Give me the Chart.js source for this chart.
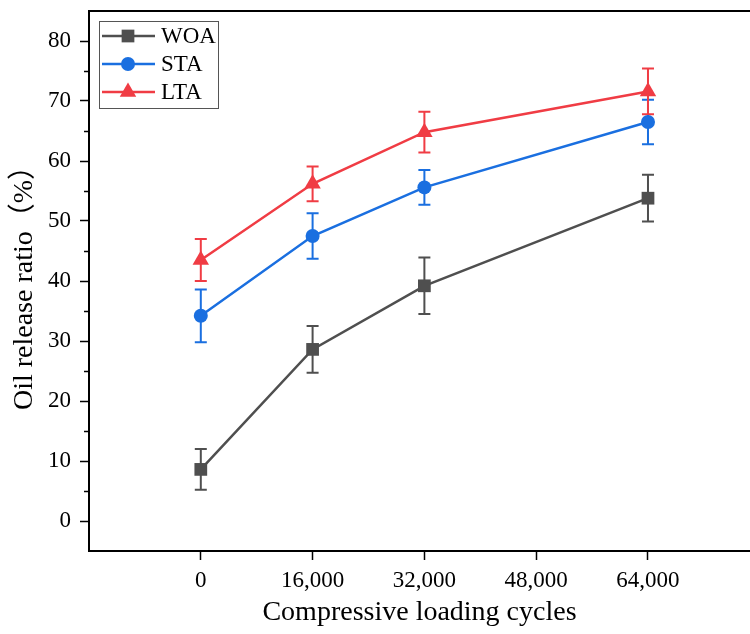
<!DOCTYPE html>
<html>
<head>
<meta charset="utf-8">
<script src="https://cdn.jsdelivr.net/npm/chart.js@4"></script>
<style>
  body { margin: 0; background: #fff; overflow: hidden; }
  #wrap { width: 750px; height: 634px; }
</style>
</head>
<body>
<div id="wrap"><canvas id="chart"></canvas></div>
<script>
// data
const cycles = [0, 16000, 32000, 64000];
const xTicks = [0, 16000, 32000, 48000, 64000];
const yTicks = [0, 10, 20, 30, 40, 50, 60, 70, 80];
const yMinor = [5, 15, 25, 35, 45, 55, 65, 75];

const names = ["WOA", "STA", "LTA"];
const woa = [8.6, 28.6, 39.2, 53.8];
const woaErr = [3.4, 3.9, 4.7, 3.9];
const sta = [34.2, 47.5, 55.6, 66.5];
const staErr = [4.4, 3.8, 2.9, 3.7];
const lta = [43.5, 56.2, 64.8, 71.6];
const ltaErr = [3.5, 2.9, 3.4, 3.8];

const colors = ["#4f4f4f", "#1a6fe0", "#f03c44"];
const shapes = ["rect", "circle", "triangle"];
const radii = [9, 7, 9.5];
const errs = [woaErr, staErr, ltaErr];
const serif = "'Liberation Serif', 'Times New Roman'";

const toPoints = (vals) => cycles.map((c, i) => ({ x: c, y: vals[i] }));

const datasets = [woa, sta, lta].map((vals, i) => ({
  label: names[i],
  data: toPoints(vals),
  borderColor: colors[i],
  backgroundColor: colors[i],
  borderWidth: 2.5,
  pointStyle: shapes[i],
  pointRadius: radii[i],
  pointBorderWidth: 0,
  pointBackgroundColor: colors[i],
  tension: 0,
}));

// error bars, top frame line, minor ticks and legend
const extras = {
  id: "extras",
  beforeDatasetsDraw(chart) {
    const ctx = chart.ctx;
    const xs = chart.scales.x, ys = chart.scales.y;
    ctx.save();
    errs.forEach((err, i) => {
      ctx.strokeStyle = colors[i];
      ctx.lineWidth = 2;
      chart.data.datasets[i].data.forEach((p, j) => {
        const x = xs.getPixelForValue(p.x);
        const y1 = ys.getPixelForValue(p.y + err[j]);
        const y2 = ys.getPixelForValue(p.y - err[j]);
        ctx.beginPath();
        ctx.moveTo(x, y1); ctx.lineTo(x, y2);
        ctx.moveTo(x - 6, y1); ctx.lineTo(x + 6, y1);
        ctx.moveTo(x - 6, y2); ctx.lineTo(x + 6, y2);
        ctx.stroke();
      });
    });
    ctx.restore();
  },
  afterDraw(chart) {
    const ctx = chart.ctx;
    const ca = chart.chartArea;
    const ys = chart.scales.y;
    ctx.save();
    // top frame
    ctx.strokeStyle = "#000";
    ctx.lineWidth = 2;
    ctx.beginPath();
    ctx.moveTo(ca.left - 1, ca.top);
    ctx.lineTo(ca.right, ca.top);
    ctx.stroke();
    // minor y ticks
    ctx.lineWidth = 1.5;
    yMinor.forEach((v) => {
      const y = Math.round(ys.getPixelForValue(v)) + 0.5;
      ctx.beginPath();
      ctx.moveTo(ca.left - 5, y);
      ctx.lineTo(ca.left, y);
      ctx.stroke();
    });
    // legend
    const lx = ca.left + 10, ly = ca.top + 10;
    ctx.strokeStyle = "#555";
    ctx.lineWidth = 1;
    ctx.strokeRect(lx + 0.5, ly + 0.5, 119, 87);
    ctx.font = "23px " + serif;
    ctx.textBaseline = "middle";
    names.forEach((n, i) => {
      const y = ly + 15 + i * 28;
      ctx.strokeStyle = colors[i];
      ctx.fillStyle = colors[i];
      ctx.lineWidth = 2.5;
      ctx.beginPath();
      ctx.moveTo(lx + 3, y); ctx.lineTo(lx + 56, y);
      ctx.stroke();
      const mx = lx + 29, r = radii[i];
      ctx.beginPath();
      if (shapes[i] === "rect") {
        const s = r * Math.SQRT1_2;
        ctx.rect(mx - s, y - s, 2 * s, 2 * s);
      } else if (shapes[i] === "circle") {
        ctx.arc(mx, y, r, 0, Math.PI * 2);
      } else {
        ctx.moveTo(mx, y - r);
        ctx.lineTo(mx + r * 0.866, y + r * 0.5);
        ctx.lineTo(mx - r * 0.866, y + r * 0.5);
        ctx.closePath();
      }
      ctx.fill();
      ctx.fillStyle = "#000";
      ctx.textAlign = "left";
      ctx.fillText(n, lx + 62, y + 1);
    });
    ctx.restore();
  },
};

const chart = document.getElementById("chart").getContext("2d");

new Chart(chart, {
  type: "line",
  data: { datasets: datasets },
  options: {
    responsive: true,
    maintainAspectRatio: false,
    animation: false,
    layout: { autoPadding: false, padding: { top: 11, right: 0, bottom: 0, left: 0 } },
    plugins: { legend: { display: false }, tooltip: { enabled: false } },
    scales: {
      x: {
        type: "linear",
        min: -16000,
        max: 78600,
        afterBuildTicks: (s) => { s.ticks = xTicks.map((v) => ({ value: v })); },
        afterFit: (s) => { s.height = 83; s.paddingLeft = 0; s.paddingRight = 0; },
        grid: { drawOnChartArea: false, tickLength: 9, tickWidth: 1.5, tickColor: "#000" },
        border: { display: true, color: "#000", width: 2 },
        ticks: {
          color: "#000",
          padding: 7,
          font: { family: serif, size: 23 },
          callback: (v) => v.toLocaleString("en-US"),
        },
        title: {
          display: true,
          text: "Compressive loading cycles",
          color: "#000",
          font: { family: serif, size: 28 },
          padding: { top: 0, bottom: 5 },
        },
      },
      y: {
        min: -5,
        max: 85,
        afterBuildTicks: (s) => { s.ticks = yTicks.map((v) => ({ value: v })); },
        afterFit: (s) => { s.width = 89; s.paddingTop = 0; s.paddingBottom = 0; },
        grid: { drawOnChartArea: false, tickLength: 9, tickWidth: 1.5, tickColor: "#000" },
        border: { display: true, color: "#000", width: 2 },
        ticks: {
          color: "#000",
          padding: 9,
          font: { family: serif, size: 23 },
        },
        title: {
          display: true,
          text: "Oil release ratio（%）",
          color: "#000",
          font: { family: serif + ", 'Noto Sans CJK SC', serif", size: 28 },
          padding: { top: 8, bottom: 0 },
        },
      },
    },
  },
  plugins: [extras],
});
</script>
</body>
</html>
